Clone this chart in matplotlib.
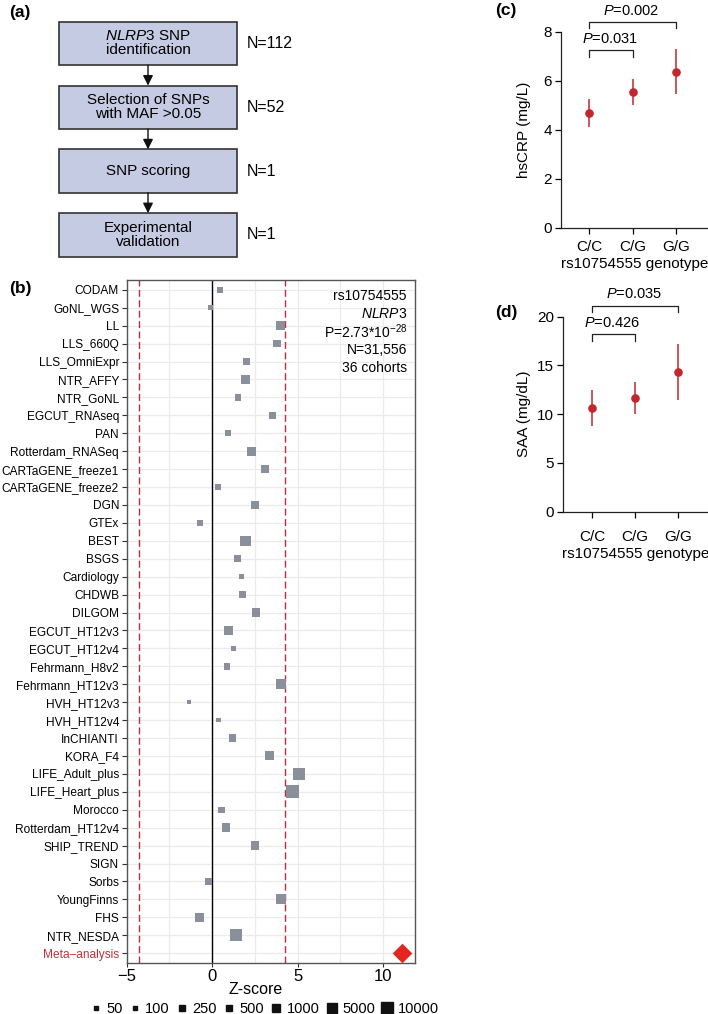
import numpy as np
import matplotlib.pyplot as plt
from matplotlib.patches import Rectangle
from matplotlib.lines import Line2D

plt.rcParams['font.family'] = ['Liberation Sans', 'DejaVu Sans']
plt.rcParams['mathtext.fontset'] = 'custom'
plt.rcParams['mathtext.rm'] = 'Liberation Sans'
plt.rcParams['mathtext.it'] = 'Liberation Sans:italic'
plt.rcParams['mathtext.bf'] = 'Liberation Sans:bold'

# (a) flowchart
flow_steps = [r'$\mathit{NLRP3}$ SNP' + '\nidentification',
              'Selection of SNPs\nwith MAF >0.05',
              'SNP scoring',
              'Experimental\nvalidation']
flow_n = ['N=112', 'N=52', 'N=1', 'N=1']

# (b) per-cohort z-scores and sample sizes (SIGN has no estimate)
cohorts = ['CODAM', 'GoNL_WGS', 'LL', 'LLS_660Q', 'LLS_OmniExpr', 'NTR_AFFY',
           'NTR_GoNL', 'EGCUT_RNAseq', 'PAN', 'Rotterdam_RNASeq',
           'CARTaGENE_freeze1', 'CARTaGENE_freeze2', 'DGN', 'GTEx', 'BEST',
           'BSGS', 'Cardiology', 'CHDWB', 'DILGOM', 'EGCUT_HT12v3',
           'EGCUT_HT12v4', 'Fehrmann_H8v2', 'Fehrmann_HT12v3', 'HVH_HT12v3',
           'HVH_HT12v4', 'InCHIANTI', 'KORA_F4', 'LIFE_Adult_plus',
           'LIFE_Heart_plus', 'Morocco', 'Rotterdam_HT12v4', 'SHIP_TREND',
           'SIGN', 'Sorbs', 'YoungFinns', 'FHS', 'NTR_NESDA']
zscore = [0.47, -0.08, 3.98, 3.80, 2.03, 1.95,
          1.50, 3.53, 0.94, 2.28,
          3.10, 0.33, 2.51, -0.72, 1.95,
          1.46, 1.71, 1.79, 2.55, 0.97,
          1.23, 0.86, 4.03, -1.33,
          0.37, 1.19, 3.35, 5.09,
          4.68, 0.54, 0.80, 2.51,
          np.nan, -0.22, 4.03, -0.76, 1.39]
n_samples = [500, 190, 2900, 1000, 800, 1600,
             500, 1000, 500, 2400,
             1600, 500, 2400, 500, 6000,
             800, 250, 800, 1600, 2400,
             130, 500, 3500, 75,
             130, 1000, 2400, 16000,
             30000, 500, 2000, 2000,
             np.nan, 640, 5000, 2900, 16000]
meta_label = 'Meta\u2013analysis'
meta_z = 11.09
thresh = 4.28
snp_info = ['rs10754555', r'$\mathit{NLRP3}$', r'P=2.73*10$^{\mathregular{-28}}$',
            'N=31,556', '36 cohorts']
size_breaks = [50, 100, 250, 500, 1000, 5000, 10000]

# (c), (d) genotype means with 95% CI
genotypes = ['C/C', 'C/G', 'G/G']
crp_mean = [4.67, 5.54, 6.36]
crp_lo = [4.10, 5.02, 5.44]
crp_hi = [5.27, 6.06, 7.28]
crp_pvals = [(0, 1, '0.031'), (0, 2, '0.002')]
saa_mean = [10.67, 11.63, 14.33]
saa_lo = [8.82, 10.02, 11.42]
saa_hi = [12.45, 13.30, 17.18]
saa_pvals = [(0, 1, '0.426'), (0, 2, '0.035')]

W, H = 708, 1014
RED = '#c1272d'


def frame(l, t, r, b):
    return [l / W, 1 - b / H, (r - l) / W, (b - t) / H]


def side_pt(n):
    # square side (points) from sample size, log scale like the size legend
    px = np.array([3.3, 4.0, 5.0, 5.7, 6.7, 9.0, 10.0]) * 1.12
    lg = np.log10(np.asarray(n, dtype=float))
    side = np.interp(lg, np.log10(size_breaks), px)
    side = side + np.clip(lg - 4, 0, None) * 3.5
    return side * 0.72


fig = plt.figure(figsize=(W / 100, H / 100), dpi=100)

# overlay for flowchart and panel letters
ao = fig.add_axes([0, 0, 1, 1])
ao.set_xlim(0, W)
ao.set_ylim(H, 0)
ao.axis('off')
for lab, x, y in [('(a)', 9, 12), ('(b)', 9, 289), ('(c)', 495, 10), ('(d)', 495, 313)]:
    ao.text(x, y, lab, fontsize=12.5, fontweight='bold', va='center', ha='left')

bx0, bx1, bh, step, c0 = 59, 237, 43.5, 63.8, 43.5
for i, (txt, nn) in enumerate(zip(flow_steps, flow_n)):
    cy = c0 + i * step
    ao.add_patch(Rectangle((bx0, cy - bh / 2), bx1 - bx0, bh, facecolor='#c6cbe4',
                           edgecolor='#333333', lw=1.2))
    ao.text((bx0 + bx1) / 2, cy, txt, ha='center', va='center', fontsize=11,
            linespacing=1.0)
    ao.text(247, cy, nn, ha='left', va='center', fontsize=11.5)
    if i < len(flow_steps) - 1:
        ao.annotate('', xy=((bx0 + bx1) / 2, cy + step - bh / 2),
                    xytext=((bx0 + bx1) / 2, cy + bh / 2),
                    arrowprops=dict(arrowstyle='-|>', color='#111111', lw=1.0,
                                    mutation_scale=15, shrinkA=0, shrinkB=0))

# (b) forest-style z-score plot
ax = fig.add_axes(frame(126.7, 280, 415, 963))
labels_all = cohorts + [meta_label]
rows = np.arange(len(labels_all))
z = np.array(zscore)
n = np.array(n_samples)
ok = ~np.isnan(z)
ax.set_xlim(-5.0, 11.87)
ax.set_ylim(len(rows) - 1 + 0.55, -0.55)
ax.set_xticks([-5, 0, 5, 10])
ax.set_xticks([-2.5, 2.5, 7.5], minor=True)
ax.set_yticks(rows, labels_all)
ax.grid(which='both', axis='x', color='#ebebeb', lw=0.9)
ax.grid(axis='y', color='#ebebeb', lw=0.9)
ax.set_axisbelow(True)
ax.axvline(0, color='black', lw=1.0, zorder=1.5)
for t in (-thresh, thresh):
    ax.axvline(t, color='#b8303f', lw=1.0, ls=(0, (5, 2.5)), zorder=1.6)
ax.scatter(z[ok], rows[:-1][ok], s=side_pt(n[ok]) ** 2, marker='s',
           color='#8a9099', lw=0, zorder=3)
ax.scatter([meta_z], [rows[-1]], s=100, marker='D', color='#e3261f', lw=0,
           zorder=4, clip_on=False)
for i, s in enumerate(snp_info):
    ax.text(11.4, i + 0.35, s, ha='right', va='center', fontsize=10)
for sp in ax.spines.values():
    sp.set_color('#555555')
    sp.set_linewidth(1.0)
ax.tick_params(axis='y', length=3.5, width=0.8, color='#333333', pad=2, labelsize=8.6)
ax.tick_params(axis='x', length=3, width=0.8, color='#333333', pad=1.5, labelsize=12)
ax.tick_params(which='minor', length=0)
ax.get_yticklabels()[-1].set_color('#c0313a')
ax.set_xlabel('Z-score', fontsize=11.5, labelpad=0)
ax.xaxis.set_label_coords((256 - 126.7) / 288.3, -0.028)

handles = [Line2D([], [], marker='s', ls='', color='#111111', markersize=side_pt(b))
           for b in size_breaks]
ax.legend(handles, [str(b) for b in size_breaks], ncol=len(size_breaks), loc='center',
          bbox_to_anchor=(265 / W, 1 - 1009 / H), bbox_transform=fig.transFigure,
          frameon=False, fontsize=10.5, handlelength=0.6, handletextpad=0.4,
          columnspacing=0.55, borderpad=0, borderaxespad=0)


def genotype_panel(rect, mean, lo, hi, pvals, ylim, yticks, ylabel, xlim, lab_coords,
                   tpad, bracket):
    a = fig.add_axes(rect)
    x = np.arange(len(genotypes))
    mean = np.array(mean)
    err = [mean - np.array(lo), np.array(hi) - mean]
    a.errorbar(x, mean, yerr=err, fmt='o', color=RED, ms=6.2, capsize=3.2,
               elinewidth=1.1, capthick=1.1, mew=0)
    a.set_xlim(*xlim)
    a.set_ylim(*ylim)
    a.set_yticks(yticks)
    a.set_xticks(x, genotypes)
    for sp in ('top', 'right'):
        a.spines[sp].set_visible(False)
    for sp in ('left', 'bottom'):
        a.spines[sp].set_linewidth(0.9)
        a.spines[sp].set_color('#222222')
    a.tick_params(axis='y', length=4, width=0.9, pad=2.5, labelsize=11)
    a.tick_params(axis='x', length=4, width=0.9, pad=tpad, labelsize=11)
    a.set_xlabel('rs10754555 genotype', fontsize=11, labelpad=2)
    a.set_ylabel(ylabel, fontsize=11)
    a.yaxis.set_label_coords(*lab_coords)
    for (i, j, p), (ytop, drop, ytxt) in zip(pvals, bracket):
        a.plot([i, i, j, j], [ytop - drop, ytop, ytop, ytop - drop], color='#222222',
               lw=0.9, clip_on=False)
        a.text((i + j) / 2 - 0.03, ytxt, r'$P$=' + p, ha='center', va='center',
               fontsize=10.5, clip_on=False)
    return a


genotype_panel(frame(560.7, 31.7, 708, 227.7), crp_mean, crp_lo, crp_hi, crp_pvals,
               (0, 8), [0, 2, 4, 6, 8], 'hsCRP (mg/L)', (-0.657, 2.73), (-0.20, 0.5),
               5, [(7.25, 0.27, 7.69), (8.41, 0.27, 8.86)])
genotype_panel(frame(563.3, 316.7, 708, 511.7), saa_mean, saa_lo, saa_hi, saa_pvals,
               (0, 20), [0, 5, 10, 15, 20], 'SAA (mg/dL)', (-0.677, 2.70), (-0.225, 0.5),
               9, [(18.19, 0.69, 19.38), (21.1, 0.6, 22.33)])

fig.savefig('out.png', dpi=100)
